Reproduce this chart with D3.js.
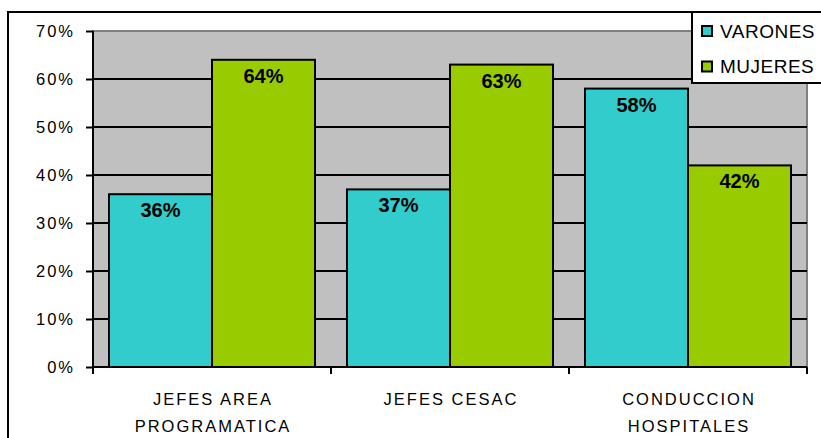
<!DOCTYPE html>
<html>
<head>
<meta charset="utf-8">
<script src="https://cdn.jsdelivr.net/npm/d3@7/dist/d3.min.js"></script>
<style>
  html, body { margin: 0; padding: 0; background: #fff; }
  svg { display: block; font-family: "Liberation Sans", Arial, sans-serif; }
</style>
</head>
<body>
<svg id="chart" width="821" height="438"></svg>
<script>
// Distribución por sexo de cargos de conducción
const categories = [["JEFES AREA", "PROGRAMATICA"], ["JEFES CESAC"], ["CONDUCCION", "HOSPITALES"]];
const seriesNames = ["VARONES", "MUJERES"];
const seriesColors = ["#33CCCC", "#99CC00"];
const varones = [36, 37, 58];
const mujeres = [64, 63, 42];
const yTicks = [0, 10, 20, 30, 40, 50, 60, 70];

const svg = d3.select("#chart");
const W = 821, H = 438;
const plot = { left: 93, right: 807, top: 31, bottom: 367 };

// outer chart frame
svg.append("rect")
  .attr("x", 8).attr("y", 12)
  .attr("width", W + 10).attr("height", H + 10)
  .attr("fill", "#fff").attr("stroke", "#000").attr("stroke-width", 2);

const x0 = d3.scaleBand()
  .domain(d3.range(categories.length))
  .range([plot.left, plot.right])
  .paddingInner(0).paddingOuter(0);

const groupPad = 16;
const x1 = d3.scaleBand()
  .domain(d3.range(seriesNames.length))
  .range([groupPad, x0.bandwidth() - groupPad])
  .padding(0);

const y = d3.scaleLinear().domain([0, 70]).range([plot.bottom, plot.top]);

// plot area background
svg.append("rect")
  .attr("x", plot.left).attr("y", plot.top)
  .attr("width", plot.right - plot.left).attr("height", plot.bottom - plot.top)
  .attr("fill", "#C0C0C0").attr("stroke", "#808080").attr("stroke-width", 2);

// horizontal gridlines
svg.append("g")
  .selectAll("line")
  .data(yTicks.filter(t => t > 0 && t < 70))
  .join("line")
  .attr("x1", plot.left).attr("x2", plot.right)
  .attr("y1", d => y(d)).attr("y2", d => y(d))
  .attr("stroke", "#000").attr("stroke-width", 2);

// bars
const seriesData = [varones, mujeres];
const groups = svg.append("g")
  .selectAll("g")
  .data(categories.map((c, i) => i))
  .join("g")
  .attr("transform", i => `translate(${x0(i)},0)`);

groups.selectAll("rect")
  .data(i => seriesData.map((s, k) => ({ k, v: s[i] })))
  .join("rect")
  .attr("x", d => x1(d.k))
  .attr("y", d => y(d.v))
  .attr("width", x1.bandwidth())
  .attr("height", d => y(0) - y(d.v))
  .attr("fill", d => seriesColors[d.k])
  .attr("stroke", "#000").attr("stroke-width", 2);

groups.selectAll("text.val")
  .data(i => seriesData.map((s, k) => ({ k, v: s[i] })))
  .join("text")
  .attr("class", "val")
  .attr("x", d => x1(d.k) + x1.bandwidth() / 2)
  .attr("y", d => y(d.v) + 23)
  .attr("text-anchor", "middle")
  .attr("font-size", 20).attr("font-weight", "bold")
  .attr("fill", "#000")
  .text(d => d.v + "%");

// y axis
const yAxis = d3.axisLeft(y)
  .tickValues(yTicks)
  .tickSize(7)
  .tickPadding(11)
  .tickFormat(d => d + "%");
const gy = svg.append("g")
  .attr("transform", `translate(${plot.left},0)`)
  .call(yAxis);
gy.select(".domain").attr("stroke", "#000").attr("stroke-width", 2).attr("d", `M0,${plot.top}V${plot.bottom}`);
gy.selectAll(".tick line").attr("stroke", "#000").attr("stroke-width", 2);
gy.selectAll(".tick text")
  .attr("font-size", 16.5).attr("fill", "#000")
  .attr("letter-spacing", 2)
  .attr("font-family", "Liberation Sans, Arial, sans-serif");

// x axis baseline and category ticks
const xEdges = d3.range(categories.length + 1).map(i => plot.left + i * x0.bandwidth());
svg.append("line")
  .attr("x1", plot.left).attr("x2", plot.right)
  .attr("y1", plot.bottom).attr("y2", plot.bottom)
  .attr("stroke", "#000").attr("stroke-width", 2);
svg.append("g").selectAll("line")
  .data(xEdges)
  .join("line")
  .attr("x1", d => d).attr("x2", d => d)
  .attr("y1", plot.bottom).attr("y2", plot.bottom + 7)
  .attr("stroke", "#000").attr("stroke-width", 2);

// category labels
const cat = svg.append("g").selectAll("text")
  .data(categories)
  .join("text")
  .attr("x", (d, i) => x0(i) + x0.bandwidth() / 2 + 1)
  .attr("y", 405)
  .attr("text-anchor", "middle")
  .attr("font-size", 16.5).attr("letter-spacing", 2).attr("fill", "#000");
cat.selectAll("tspan")
  .data(d => d)
  .join("tspan")
  .attr("x", function () { return d3.select(this.parentNode).attr("x"); })
  .attr("dy", (d, j) => j === 0 ? 0 : 27)
  .text(d => d);

// legend
const lg = svg.append("g").attr("transform", "translate(692,12)");
lg.append("rect")
  .attr("x", 0).attr("y", 0).attr("width", 140).attr("height", 71)
  .attr("fill", "#fff").attr("stroke", "#000").attr("stroke-width", 2);
const items = lg.selectAll("g.item")
  .data(seriesNames)
  .join("g")
  .attr("class", "item")
  .attr("transform", (d, i) => `translate(0,${19 + i * 35.5})`);
items.append("rect")
  .attr("x", 10).attr("y", -5).attr("width", 10).attr("height", 10)
  .attr("fill", (d, i) => seriesColors[i])
  .attr("stroke", "#000").attr("stroke-width", 2);
items.append("text")
  .attr("x", 28).attr("y", 6.8)
  .attr("font-size", 19).attr("letter-spacing", 0.5).attr("fill", "#000")
  .text(d => d);
</script>
</body>
</html>
